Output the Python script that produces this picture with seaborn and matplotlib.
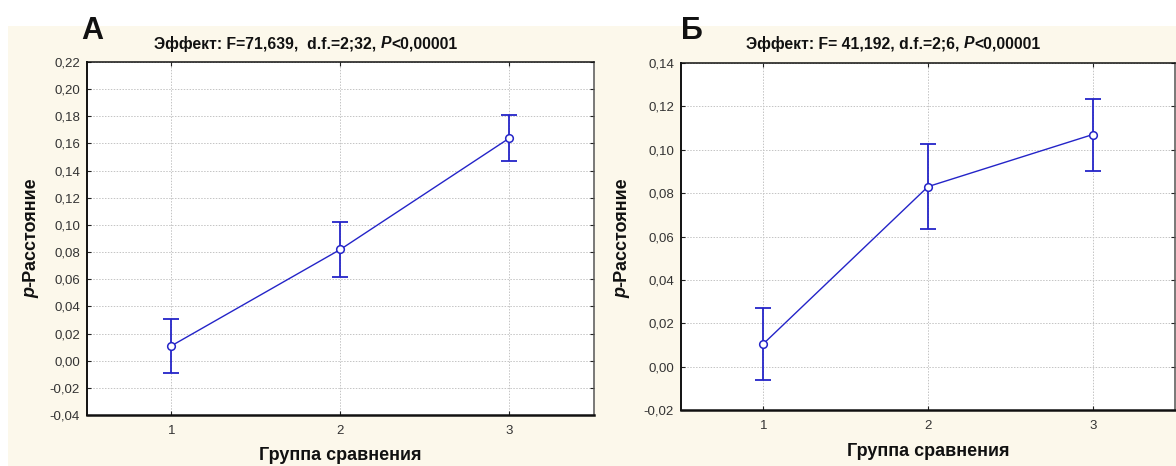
import numpy as np
import pandas as pd
import seaborn as sns
import matplotlib
matplotlib.use("Agg")
import matplotlib.pyplot as plt
from matplotlib.patches import Rectangle

# ---------------- data ----------------
groups = [1, 2, 3]
mean_a = [0.011, 0.082, 0.164]
err_a = [0.020, 0.020, 0.017]
mean_b = [0.0105, 0.083, 0.107]
err_b = [0.0166, 0.0197, 0.0166]

yticks_a = [-0.04, -0.02, 0.00, 0.02, 0.04, 0.06, 0.08, 0.10, 0.12, 0.14, 0.16, 0.18, 0.20, 0.22]
ylabels_a = ["-0,04", "-0,02", "0,00", "0,02", "0,04", "0,06", "0,08", "0,10", "0,12",
             "0,14", "0,16", "0,18", "0,20", "0,22"]
yticks_b = [-0.02, 0.00, 0.02, 0.04, 0.06, 0.08, 0.10, 0.12, 0.14]
ylabels_b = ["-0,02", "0,00", "0,02", "0,04", "0,06", "0,08", "0,10", "0,12", "0,14"]
xticks = [1, 2, 3]
xlabels = ["1", "2", "3"]

title_a = [("Эффект: F=71,639,  d.f.=2;32, ", "normal"), ("P", "italic"), ("<0,00001", "normal")]
title_b = [("Эффект: F= 41,192, d.f.=2;6, ", "normal"), ("P", "italic"), ("<0,00001", "normal")]
ylab = [("p", "italic"), ("-Расстояние", "normal")]
xlab = "Группа сравнения"
panel_a = "А"
panel_b = "Б"

# ---------------- style ----------------
sns.set_theme(style="white")
plt.rcParams["font.family"] = ["Liberation Sans", "DejaVu Sans"]

W, H = 1176, 466
fig = plt.figure(figsize=(W / 100, H / 100), dpi=100)
fig.patch.set_facecolor("white")
fig.patches.append(Rectangle((8 / W, 0), 1 - 8 / W, 1 - 26 / H, transform=fig.transFigure,
                             facecolor="#fcf8eb", edgecolor="none", zorder=-10))

LINE = "#2424c8"

ax_a = fig.add_axes([87 / W, 1 - 415 / H, (594 - 87) / W, (415 - 62) / H])
ax_b = fig.add_axes([681 / W, 1 - 410 / H, (1175 - 681) / W, (410 - 63) / H])


def draw_panel(ax, mean, err, yt, yl, ylim):
    df = pd.DataFrame({"g": groups, "v": mean})
    ax.errorbar(groups, mean, yerr=err, fmt="none", ecolor=LINE, elinewidth=1.3,
                capsize=6, capthick=1.3, zorder=3)
    sns.lineplot(data=df, x="g", y="v", ax=ax, color=LINE, linewidth=1.0, marker="o",
                 markersize=5.5, markerfacecolor="white", markeredgecolor=LINE,
                 markeredgewidth=1.1, zorder=4)
    ax.set_xlim(0.5, 3.5)
    ax.set_ylim(*ylim)
    ax.set_xticks(xticks)
    ax.set_xticklabels(xlabels)
    ax.set_yticks(yt)
    ax.set_yticklabels(yl)
    ax.set_xlabel("")
    ax.set_ylabel("")
    ax.set_facecolor("white")
    ax.grid(True, color="#c4c4c4", linestyle=(0, (1.5, 1.5)), linewidth=0.7)
    ax.tick_params(axis="both", which="both", direction="in", length=3, width=0.8,
                   colors="#222222", labelsize=9.5, labelcolor="#333333",
                   top=True, right=True, bottom=True, left=True, pad=5)
    ax.tick_params(axis="x", pad=7)
    for s in ["left", "top", "right"]:
        ax.spines[s].set_color("#111111")
        ax.spines[s].set_linewidth(1.1)
    ax.spines["right"].set_color("#555555")
    ax.spines["bottom"].set_color("#111111")
    ax.spines["bottom"].set_linewidth(1.8)
    ax.spines["left"].set_linewidth(1.4)


draw_panel(ax_a, mean_a, err_a, yticks_a, ylabels_a, (-0.04, 0.22))
draw_panel(ax_b, mean_b, err_b, yticks_b, ylabels_b, (-0.02, 0.14))

fig.canvas.draw()
renderer = fig.canvas.get_renderer()


def pieces_h(xc, yc, pieces, size):
    texts = []
    for s, st in pieces:
        t = fig.text(0, 0, s, fontsize=size, fontweight="bold", fontstyle=st,
                     ha="left", va="center", color="#111111")
        texts.append(t)
    widths = [t.get_window_extent(renderer).width for t in texts]
    x = xc - sum(widths) / 2
    for t, w in zip(texts, widths):
        t.set_position((x / W, 1 - yc / H))
        x += w


def pieces_v(xc, yc, pieces, size):
    texts = []
    for s, st in pieces:
        t = fig.text(0, 0, s, fontsize=size, fontweight="bold", fontstyle=st,
                     ha="center", va="bottom", rotation=90, color="#111111")
        texts.append(t)
    hs = [t.get_window_extent(renderer).height for t in texts]
    y = yc + sum(hs) / 2
    for t, h in zip(texts, hs):
        t.set_position((xc / W, 1 - y / H))
        y -= h


pieces_h(306, 44, title_a, 11.3)
pieces_h(893, 44, title_b, 11.3)
pieces_v(31, 238, ylab, 13)
pieces_v(622, 238, ylab, 13)
fig.text(340 / W, 1 - 455 / H, xlab, fontsize=13, fontweight="bold", ha="center",
         va="center", color="#111111")
fig.text(928 / W, 1 - 452 / H, xlab, fontsize=13, fontweight="bold", ha="center",
         va="center", color="#111111")
fig.text(92 / W, 1 - 31 / H, panel_a, fontsize=22, fontweight="bold", ha="center",
         va="center", color="#111111")
fig.text(692 / W, 1 - 31 / H, panel_b, fontsize=22, fontweight="bold", ha="center",
         va="center", color="#111111")

fig.savefig("out.png", dpi=100, facecolor=fig.get_facecolor())
